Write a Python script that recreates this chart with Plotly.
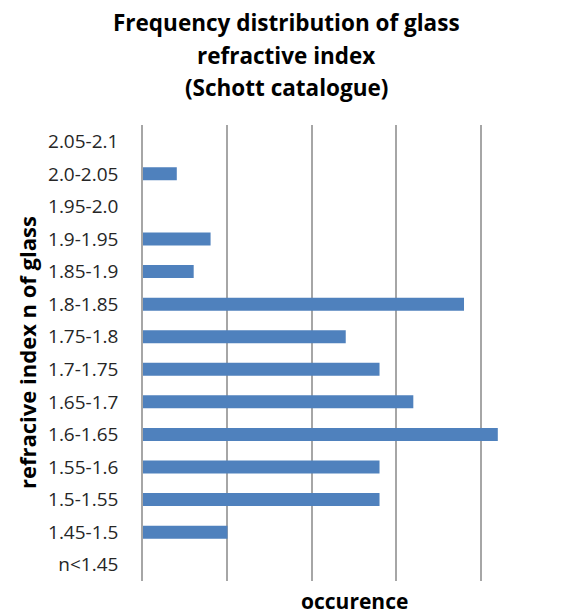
import plotly.graph_objects as go

categories = ["n<1.45", "1.45-1.5", "1.5-1.55", "1.55-1.6", "1.6-1.65", "1.65-1.7",
              "1.7-1.75", "1.75-1.8", "1.8-1.85", "1.85-1.9", "1.9-1.95", "1.95-2.0",
              "2.0-2.05", "2.05-2.1"]
occurence = [0, 5, 14, 14, 21, 16, 14, 12, 19, 3, 4, 0, 2, 0]

title_lines = ["Frequency distribution of glass", "refractive index", "(Schott catalogue)"]
x_title = "occurence"
y_title = "refracive index n of glass"

W, H = 562, 615
L, R, T, B = 143, 0, 125, 34
plot_w = W - L - R
plot_h = H - T - B

def px_x(x):
    return (x - L) / plot_w

def px_y(y):
    return (H - B - y) / plot_h

fig = go.Figure(go.Bar(
    x=occurence, y=categories, orientation="h",
    marker=dict(color="#4F81BD", line=dict(width=0)),
    width=0.4,
))

font_family = "Open Sans, Liberation Sans, sans-serif"
ann = []
for text, yc in zip(title_lines, [22, 55, 87]):
    ann.append(dict(text="<b>%s</b>" % text, x=px_x(286), y=px_y(yc), xref="paper", yref="paper",
                    xanchor="center", yanchor="middle", showarrow=False,
                    font=dict(family=font_family, size=22.5, color="#000000")))
ann.append(dict(text="<b>%s</b>" % x_title, x=px_x(354), y=px_y(601), xref="paper", yref="paper",
                xanchor="center", yanchor="middle", showarrow=False,
                font=dict(family=font_family, size=21, color="#000000")))
ann.append(dict(text="<b>%s</b>" % y_title, x=px_x(27), y=px_y(353), xref="paper", yref="paper",
                xanchor="center", yanchor="middle", showarrow=False, textangle=-90,
                font=dict(family=font_family, size=22, color="#000000")))

fig.update_layout(
    width=W, height=H,
    margin=dict(l=L, r=R, t=T, b=B, pad=0),
    paper_bgcolor="white", plot_bgcolor="white",
    showlegend=False,
    annotations=ann,
    xaxis=dict(range=[0, 24.8], dtick=5, tick0=0, showgrid=True, gridcolor="#A6A6A6",
               gridwidth=1.5, zeroline=False, showticklabels=False, showline=False,
               fixedrange=True),
    yaxis=dict(categoryorder="array", categoryarray=categories, showgrid=False,
               showline=True, linecolor="#A6A6A6", linewidth=1.5, zeroline=False,
               ticks="", ticklabelstandoff=19,
               tickfont=dict(family=font_family, size=19, color="#262626")),
)

fig.write_html("out.html")
